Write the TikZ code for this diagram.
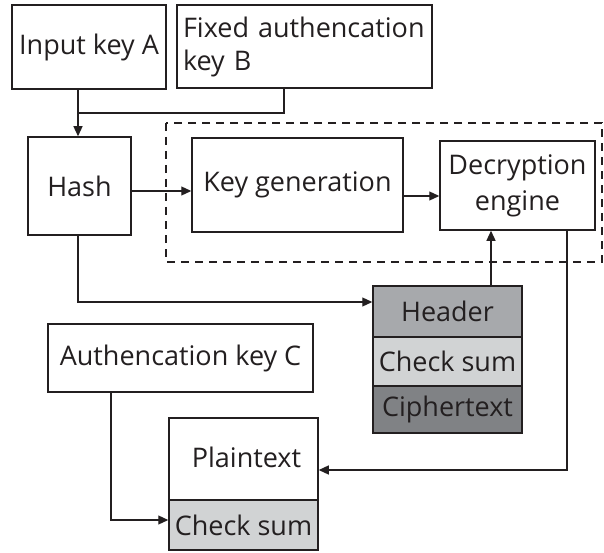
\documentclass[tikz,border=0pt]{standalone}
\usepackage{fontspec}
\setmainfont{Open Sans}
\usetikzlibrary{arrows.meta}
\definecolor{ink}{HTML}{231F20}
\definecolor{hdr}{HTML}{A7A9AC}
\definecolor{chk}{HTML}{D1D3D4}
\definecolor{cph}{HTML}{808285}
\begin{document}
\begin{tikzpicture}[x=1pt,y=-1pt,
  box/.style={draw=ink,line width=1.5pt,inner sep=0pt,text=ink,font=\fontsize{27}{36}\selectfont,align=center},
  conn/.style={draw=ink,line width=1.2pt},
  arr/.style={conn,-{Triangle[length=10pt,width=9pt]}},
  grp/.style={draw=ink,line width=1.5pt,dash pattern=on 8pt off 6pt}]
\useasboundingbox (0,0) rectangle (604,553);
% dashed group
\draw[grp] (166,123) rectangle (602,262);
% boxes
\node[box,minimum width=154pt,minimum height=84pt] (A) at (89,47) {Input key A};
\node[box,minimum width=255pt,minimum height=83pt,text width=243pt,align=left,font=\fontsize{27}{33}\selectfont] (B) at (304.5,46.5) {Fixed authencation\\key B};
\node[box,minimum width=103pt,minimum height=98pt] (H) at (79.5,186) {Hash};
\node[box,minimum width=211pt,minimum height=94pt] (K) at (297.5,185) {Key generation};
\node[box,minimum width=155pt,minimum height=89pt] (D) at (517.5,185.5) {Decryption\\engine};
\node[box,fill=hdr,minimum width=149pt,minimum height=51pt] (HD) at (447.5,311.5) {Header};
\node[box,fill=chk,minimum width=149pt,minimum height=49pt] (CS) at (447.5,361.5) {Check sum};
\node[box,fill=cph,minimum width=149pt,minimum height=47pt] (CT) at (447.5,409.5) {Ciphertext};
\node[box,minimum width=265pt,minimum height=68pt] (C) at (180.5,358) {Authencation key C};
\node[box,minimum width=149pt,minimum height=82pt] (P) at (243.5,459) {\raisebox{4pt}{\hspace*{6pt}Plaintext}};
\node[box,fill=chk,minimum width=149pt,minimum height=50pt] (PC) at (243.5,525) {Check sum};
% connectors
\coordinate (j1) at (78,113);
\draw[arr] (A.south -| 78,0) -- (H.north -| 78,0);
\draw[conn] (B.south -| 284,0) |- (j1);
\draw[arr] (H.east |- 0,191) -- (K.west |- 0,191);
\draw[arr] (K.east |- 0,196) -- (D.west |- 0,196);
\draw[arr] (HD.north -| 491,0) -- (D.south -| 491,0);
\draw[arr] (H.south -| 78,0) |- (HD.west |- 0,302);
\draw[arr] (D.south -| 567,0) |- (P.east |- 0,470);
\draw[arr] (C.south -| 111,0) |- (PC.west |- 0,520);
\end{tikzpicture}
\end{document}
